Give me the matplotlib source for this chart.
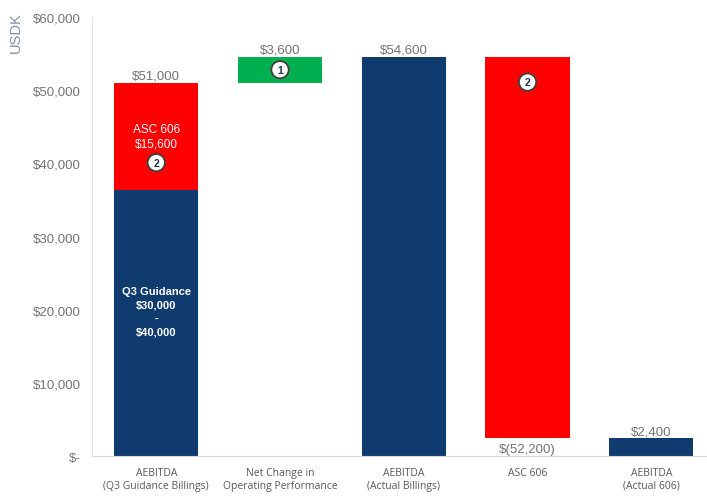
import matplotlib
matplotlib.use("Agg")
import matplotlib.pyplot as plt
from matplotlib.ticker import FuncFormatter

categories = ["AEBITDA\n(Q3 Guidance Billings)", "Net Change in\nOperating Performance",
              "AEBITDA\n(Actual Billings)", "ASC 606", "AEBITDA\n(Actual 606)"]
# bottoms and heights of the waterfall segments
blue_vals = [36300, 0, 54600, 0, 2400]
red_bottoms = [36300, 0, 0, 2400, 0]
red_vals = [14700, 0, 0, 52200, 0]
green_bottoms = [0, 51000, 0, 0, 0]
green_vals = [0, 3600, 0, 0, 0]
top_labels = ["$51,000", "$3,600", "$54,600", "$(52,200)", "$2,400"]
label_y = [51000, 54600, 54600, 2400, 2400]
yticks = [0, 10000, 20000, 30000, 40000, 50000, 60000]

BLUE = "#0f3b6e"
RED = "#ff0000"
GREEN = "#00b050"

NUMFONT = ["Liberation Sans", "DejaVu Sans"]
CATFONT = ["Open Sans", "DejaVu Sans"]

fig = plt.figure(figsize=(7.07, 5.02), dpi=100)
ax = fig.add_axes([0.130, 0.0896, 0.870, 0.8745])
x = list(range(len(categories)))
w = 0.68
ax.bar(x, blue_vals, width=w, color=BLUE)
ax.bar(x, red_vals, bottom=red_bottoms, width=w, color=RED)
ax.bar(x, green_vals, bottom=green_bottoms, width=w, color=GREEN)

ax.set_xlim(-0.52, 4.45)
ax.set_ylim(0, 60000)
ax.set_yticks(yticks)
ax.yaxis.set_major_formatter(FuncFormatter(lambda v, p: "$-" if v == 0 else f"${v:,.0f}"))
ax.set_xticks(x)
ax.set_xticklabels(categories, fontsize=7.5, color="#595959", family=CATFONT)
for lab in ax.get_yticklabels():
    lab.set_family(NUMFONT)
ax.tick_params(axis="y", labelsize=9.5, colors="#737373", length=0, pad=8)
ax.tick_params(axis="x", length=0, pad=8)
for s in ["top", "right"]:
    ax.spines[s].set_visible(False)
ax.spines["left"].set_color("#e6e6e6")
ax.spines["bottom"].set_color("#d9d9d9")

# value labels
for i, (t, yv) in enumerate(zip(top_labels, label_y)):
    if i == 3:
        ax.text(i, yv - 600, t, ha="center", va="top", fontsize=9.5, color="#737373",
                family=NUMFONT)
    else:
        ax.text(i, yv + 150, t, ha="center", va="bottom", fontsize=9.5, color="#737373",
                family=NUMFONT)

# inside texts
ax.text(0, 43700, "ASC 606\n$15,600", ha="center", va="center", fontsize=8.5,
        color="white", linespacing=1.2, family=NUMFONT)
ax.text(0, 19800, "Q3 Guidance\n$30,000\n-\n$40,000", ha="center", va="center",
        fontsize=8, color="white", fontweight="bold", linespacing=1.45, family=NUMFONT)

def badge(xc, yc, n):
    ax.text(xc, yc, str(n), ha="center", va="center", fontsize=7.5, fontweight="bold",
            color="#1f2f4f", family=NUMFONT,
            bbox=dict(boxstyle="circle,pad=0.35", fc="white", ec="#404040", lw=1.3))

badge(0, 40100, 2)
badge(1, 52800, 1)
badge(3, 51100, 2)

fig.text(0.022, 0.935, "USDK", rotation=90, ha="center", va="center", fontsize=10.5,
         color="#7f8fa6", family=NUMFONT)

fig.savefig("out.png", dpi=100)
